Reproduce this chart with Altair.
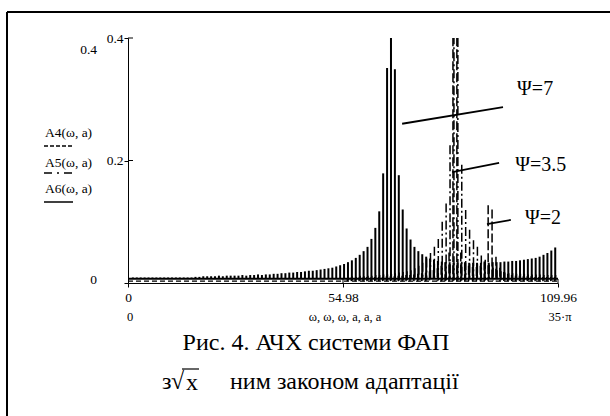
import altair as alt
import pandas as pd

FONT = "'Liberation Serif', 'Times New Roman', Times, serif"

# ---------------- data ----------------
# A6 (solid, Psi=7): one spike per unit of omega
A6_K = list(range(1, 110))
A6_AMP = [0.009] * 16 + [
    0.010, 0.010, 0.011, 0.011, 0.011, 0.011, 0.012, 0.011, 0.012, 0.012, 0.012, 0.012, 0.013, 0.012,
    0.013, 0.013, 0.014, 0.013, 0.014, 0.014, 0.015, 0.015, 0.016, 0.016, 0.017, 0.017, 0.018, 0.018, 0.019,
    0.020, 0.020, 0.021, 0.022, 0.023, 0.024, 0.025, 0.027, 0.029, 0.031,
    0.034, 0.037, 0.041, 0.046, 0.052, 0.059, 0.072, 0.090, 0.117, 0.179, 0.351,
    0.46,
    0.349, 0.176, 0.120, 0.089, 0.071, 0.059, 0.052, 0.047, 0.043, 0.040, 0.038, 0.036, 0.035,
    0.034, 0.034, 0.033, 0.033, 0.033, 0.033, 0.033, 0.033, 0.033, 0.033, 0.033, 0.033, 0.034, 0.034, 0.034,
    0.035, 0.035, 0.036, 0.036, 0.037, 0.038, 0.039, 0.040, 0.041, 0.043, 0.046, 0.049, 0.053, 0.058,
]
A6_SHIFT = 0.25
A6_BASE = 0.007

# A5 (dash-dot, Psi=3.5)
A5_K = list(range(56, 110))
A5_AMP = [
    0.010, 0.011, 0.010, 0.012, 0.011, 0.012, 0.012, 0.013, 0.013, 0.014, 0.014, 0.015, 0.016, 0.017, 0.018,
    0.019, 0.021, 0.024, 0.028, 0.033, 0.040, 0.049, 0.059, 0.072, 0.100, 0.130, 0.225,
    0.46, 0.40,
    0.193, 0.119, 0.087, 0.070, 0.059, 0.045, 0.038, 0.030, 0.025, 0.021, 0.019, 0.017,
    0.016, 0.016, 0.015, 0.015, 0.015, 0.014, 0.014, 0.014, 0.014, 0.013, 0.013, 0.013, 0.013,
]
A5_SHIFT = 0.35
A5_BASE = 0.004

# A4 (dashed, Psi=2)
A4_K = list(range(56, 110))
A4_AMP = [
    0.008, 0.009, 0.008, 0.009, 0.009, 0.010, 0.009, 0.010, 0.010, 0.010, 0.011, 0.011, 0.011, 0.012,
    0.012, 0.013, 0.013, 0.014, 0.015, 0.016,
    0.017, 0.019, 0.021, 0.024, 0.028, 0.034, 0.050,
    0.46, 0.46,
    0.050, 0.034, 0.028, 0.026, 0.026, 0.028, 0.035,
    0.127, 0.120,
    0.043, 0.025, 0.018, 0.015, 0.013, 0.012, 0.012, 0.011, 0.011, 0.011, 0.010, 0.010, 0.010, 0.010,
    0.010, 0.010,
]
A4_SHIFT = 0.1
A4_BASE = 0.003

X_TICKS = [0, 54.98, 109.96]
Y_TICKS = [0, 0.2, 0.4]
X_MAX = 109.96

# leader lines and Psi labels (data coordinates)
LEAD_W = [70.1, 82.9, 91.8]
LEAD_A = [0.260, 0.181, 0.096]
LEAD_W2 = [95.9, 94.9, 97.9]
LEAD_A2 = [0.287, 0.196, 0.103]
PSI_TEXT = ["Ψ=7", "Ψ=3.5", "Ψ=2"]
PSI_W = [99.5, 99.0, 101.5]
PSI_A = [0.316, 0.193, 0.106]

# ---------------- chart ----------------
W, H = 430, 245
xs = alt.Scale(domain=[0, X_MAX], nice=False, zero=False)
ys = alt.Scale(domain=[0, 0.4], nice=False)

x_axis = alt.Axis(values=X_TICKS, title=None, grid=False, tickSize=4, labelPadding=3,
                  labelExpr="datum.value == 0 ? '0' : format(datum.value, '.2f')",
                  labelFont=FONT, labelFontSize=13.5, labelColor="black", labelFlush=False,
                  labelOverlap=False, domainColor="black", tickColor="black")
y_axis = alt.Axis(values=Y_TICKS, title=None, grid=False, tickSize=4, labelPadding=1,
                  labelExpr="datum.value == 0 ? '' : format(datum.value, '.1f')",
                  labelFont=FONT, labelFontSize=13.5, labelColor="black",
                  domainColor="black", tickColor="black")


def X(f="w"):
    return alt.X(f"{f}:Q", scale=xs, axis=x_axis)


def Y(f="a"):
    return alt.Y(f"{f}:Q", scale=ys, axis=y_axis)


def spikes(ks, amps, shift, base, width, dash=None):
    df = pd.DataFrame({"w": [k + shift for k in ks], "a": amps, "b": [base] * len(ks)})
    kw = dict(color="black", strokeWidth=width, clip=True)
    if dash:
        kw["strokeDash"] = dash
    return alt.Chart(df).mark_rule(**kw).encode(x=X(), y=Y(), y2="b:Q")


def baseline(val, width, dash=None):
    df = pd.DataFrame({"w": [0], "w2": [X_MAX], "a": [val]})
    kw = dict(color="black", strokeWidth=width)
    if dash:
        kw["strokeDash"] = dash
    return alt.Chart(df).mark_rule(**kw).encode(x=X(), x2="w2:Q", y=Y())


DASH4 = [9, 3]
DASH5 = [9, 3, 2, 3]

layers = [
    baseline(A6_BASE, 2),
    baseline(A4_BASE, 1.4, [5, 3]),
    spikes(A6_K, A6_AMP, A6_SHIFT, A6_BASE, 2),
    spikes(A5_K, A5_AMP, A5_SHIFT, A5_BASE, 1.5, DASH5),
    spikes(A4_K, A4_AMP, A4_SHIFT, A4_BASE, 1.5, DASH4),
]

# inward halves of axis ticks
ytick_df = pd.DataFrame({"a": Y_TICKS[1:]})
layers.append(alt.Chart(ytick_df).mark_rule(color="black").encode(
    y=Y(), x=alt.value(0), x2=alt.value(5)))
xtick_df = pd.DataFrame({"w": X_TICKS[1:]})
layers.append(alt.Chart(xtick_df).mark_rule(color="black").encode(
    x=X(), y=alt.value(H), y2=alt.value(H - 4)))

# leaders and labels
lead_df = pd.DataFrame({"w": LEAD_W, "a": LEAD_A, "w2": LEAD_W2, "a2": LEAD_A2})
layers.append(alt.Chart(lead_df).mark_rule(color="black", strokeWidth=1.8).encode(
    x=X(), y=Y(), x2="w2:Q", y2="a2:Q"))
psi_df = pd.DataFrame({"w": PSI_W, "a": PSI_A, "t": PSI_TEXT})
layers.append(alt.Chart(psi_df).mark_text(font=FONT, fontSize=20, align="left", baseline="middle",
                                          color="black").encode(x=X(), y=Y(), text="t:N"))


# pixel-placed annotation texts (Mathcad range labels, legend, caption)
def ptext(rows, align):
    df = pd.DataFrame(rows, columns=["t", "px", "py", "fs"])
    return alt.Chart(df).mark_text(font=FONT, align=align, baseline="middle", color="black").encode(
        x=alt.X("px:Q", scale=None, axis=None), y=alt.Y("py:Q", scale=None, axis=None),
        text="t:N", size=alt.Size("fs:Q", scale=None, legend=None))


layers.append(ptext([("0.4", -31, 12, 13.5), ("0", -31, 242, 13.5)], "right"))
layers.append(ptext([("A4(ω, a)", -83, 95, 13.5), ("A5(ω, a)", -83, 125, 13.5),
                     ("A6(ω, a)", -83, 151, 13.5),
                     ("з", 34, 344, 24), ("√", 43, 344, 24), ("x", 58, 345, 24),
                     ("ним законом адаптації", 102, 344, 24)], "left"))
layers.append(ptext([("0", 2, 279, 12.5), ("ω, ω, ω, a, a, a", 217, 279, 12.5),
                     ("35·π", 432, 279, 12.5),
                     ("Рис. 4. АЧХ системи ФАП", 188, 305, 24)], "center"))

one = pd.DataFrame({"d": [0]})


def prule(x1, x2, y1, y2, width=1.5, dash=None):
    kw = dict(color="black", strokeWidth=width)
    if dash:
        kw["strokeDash"] = dash
    return alt.Chart(one).mark_rule(**kw).encode(
        x=alt.value(x1), x2=alt.value(x2), y=alt.value(y1), y2=alt.value(y2))


# legend samples
layers.append(prule(-84, -55, 108, 108, 1.3, [4, 2]))
layers.append(prule(-84, -55, 135, 135, 1.5, [8, 5, 2, 5]))
layers.append(prule(-84, -55, 164, 164, 1.5))
# overline of the radical
layers.append(prule(54, 71, 331, 331, 1.2))
# frame (top and left edges)
layers.append(prule(-121, 482, -26, -26, 2))
layers.append(prule(-121, -121, -26, 378, 2))

chart = alt.layer(*layers).properties(
    width=W, height=H, autosize="none",
    padding={"left": 128, "top": 38, "right": 52, "bottom": 133},
    background="white",
).configure_view(stroke=None)

chart.save("out.html", embed_options={"renderer": "svg", "actions": False})
